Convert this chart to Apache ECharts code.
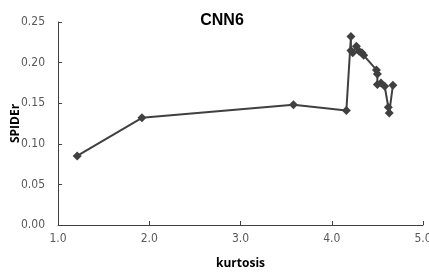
<!DOCTYPE html>
<html>
<head>
<meta charset="utf-8">
<script src="https://cdn.jsdelivr.net/npm/echarts@6/dist/echarts.min.js"></script>
<style>html,body{margin:0;padding:0;background:#fff}#c{width:429px;height:272px}</style>
</head>
<body>
<div id="c"></div>
<script>
// kurtosis vs SPIDEr
var kurtosis = [1.21, 1.92, 3.58, 4.16, 4.21, 4.21, 4.23, 4.27, 4.30, 4.33, 4.35, 4.49, 4.50, 4.50, 4.54, 4.58, 4.62, 4.63, 4.67];
var spider   = [0.085, 0.132, 0.148, 0.141, 0.232, 0.215, 0.212, 0.220, 0.214, 0.212, 0.209, 0.191, 0.186, 0.173, 0.175, 0.171, 0.145, 0.138, 0.172];
var pts = kurtosis.map(function (k, i) { return [k, spider[i]]; });

var lblFont = 'DejaVu Sans Condensed, Liberation Sans Narrow, sans-serif';
var chart = echarts.init(document.getElementById('c'));
chart.setOption({
  animation: false,
  title: {
    text: 'CNN6', left: 217, top: 8, textAlign: 'center',
    textStyle: { fontSize: 16, fontWeight: 'bold', color: '#000', fontFamily: 'Liberation Sans, sans-serif' }
  },
  grid: { left: 58, right: 6, top: 22, bottom: 47, outerBoundsMode: 'none', containLabel: false },
  xAxis: {
    type: 'value', min: 1, max: 5, interval: 1,
    name: 'kurtosis', nameLocation: 'middle', nameGap: 33, nameMoveOverlap: false,
    nameTextStyle: { fontSize: 12, fontWeight: 'bold', color: '#000', fontFamily: 'Open Sans, sans-serif' },
    axisLine: { lineStyle: { color: '#404040', width: 1 } },
    axisTick: { inside: true, length: 4, lineStyle: { color: '#404040' } },
    axisLabel: { fontSize: 12, color: '#595959', margin: 8, fontFamily: lblFont, formatter: function (v) { return v.toFixed(1); } },
    splitLine: { show: false }
  },
  yAxis: {
    type: 'value', min: 0, max: 0.25, interval: 0.05,
    name: 'SPIDEr', nameLocation: 'middle', nameGap: 36, nameMoveOverlap: false,
    nameTextStyle: { fontSize: 12, fontWeight: 'bold', color: '#000', fontFamily: 'Open Sans, sans-serif' },
    axisLine: { show: true, lineStyle: { color: '#404040', width: 1 } },
    axisTick: { show: true, inside: true, length: 4, lineStyle: { color: '#404040' } },
    axisLabel: { fontSize: 12, color: '#595959', margin: 13, fontFamily: lblFont, formatter: function (v) { return v.toFixed(2); } },
    splitLine: { show: false }
  },
  series: [{
    type: 'line', data: pts,
    symbol: 'diamond', symbolSize: 9,
    lineStyle: { color: '#404040', width: 2 },
    itemStyle: { color: '#404040' }
  }]
});
</script>
</body>
</html>
